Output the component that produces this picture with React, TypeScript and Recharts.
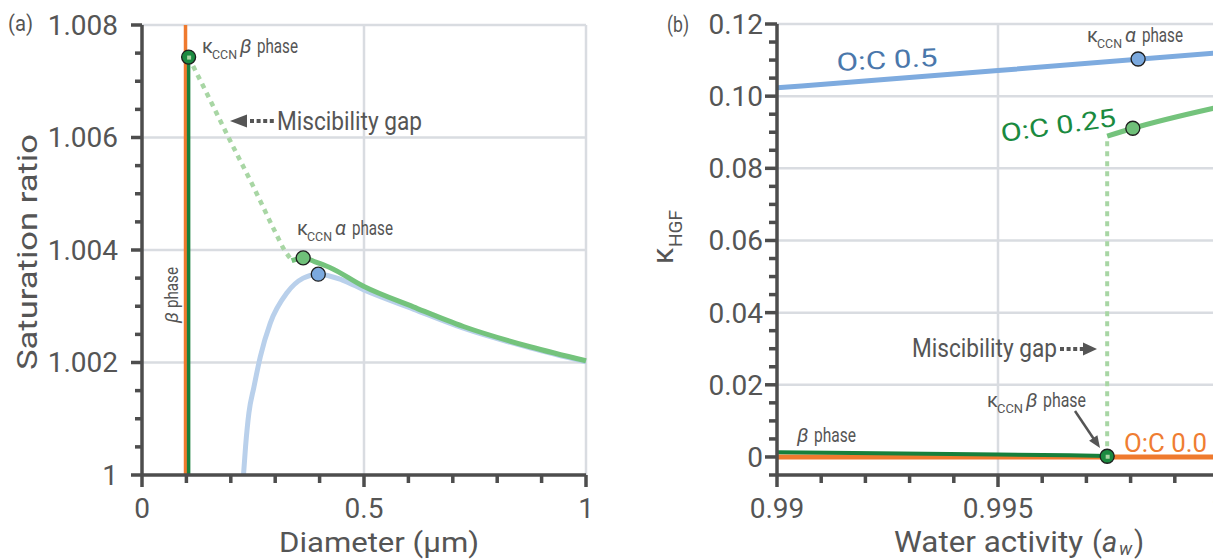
import React from 'react';
import { ComposedChart, Line, Scatter, XAxis, YAxis, CartesianGrid } from 'recharts';

const FONT = 'Roboto, "DejaVu Sans", sans-serif';
const AXIS = '#4d4d4d';
const TEXT = '#555555';
const GRID = '#d9dce1';
const ORANGE = '#ef7a2e';
const DARK_GREEN = '#17803c';
const GREEN = '#74c37c';
const DOTTED_GREEN = '#a8d6a4';
const LIGHT_BLUE = '#b9d0eb';
const BLUE = '#7eabdf';

// ---------- Panel (a): saturation ratio vs diameter ----------
const aXMinor = [0.1, 0.2, 0.3, 0.4, 0.6, 0.7, 0.8, 0.9];
const aXMajor = [0, 0.5, 1];
const aXLabels = ['0', '0.5', '1'];
const aYMinor = [1.0005, 1.001, 1.0015, 1.0025, 1.003, 1.0035, 1.0045, 1.005, 1.0055, 1.0065, 1.007, 1.0075];
const aYMajor = [1, 1.002, 1.004, 1.006, 1.008];
const aYLabels = ['1', '1.002', '1.004', '1.006', '1.008'];
const aGridX = [0.5, 1];
const aGridY = [1.002, 1.004, 1.006, 1.008];

const aOrangeBeta = [
  { x: 0.098, y: 1.0 },
  { x: 0.098, y: 1.008 },
];
const aDarkGreenBeta = [
  { x: 0.105, y: 1.0 },
  { x: 0.105, y: 1.00743 },
];
const aGap = [
  { x: 0.105, y: 1.00743 },
  { x: 0.15, y: 1.00672 },
  { x: 0.2, y: 1.00592 },
  { x: 0.25, y: 1.00514 },
  { x: 0.3, y: 1.00432 },
  { x: 0.32, y: 1.00401 },
  { x: 0.337, y: 1.00382 },
];
const aGreenAlpha = [
  { x: 0.337, y: 1.00381 },
  { x: 0.363, y: 1.00386 },
  { x: 0.39, y: 1.00379 },
  { x: 0.423, y: 1.00369 },
  { x: 0.5, y: 1.00335 },
  { x: 0.611, y: 1.00299 },
  { x: 0.724, y: 1.00264 },
  { x: 0.874, y: 1.00228 },
  { x: 1.0, y: 1.00203 },
];
const aBlue = [
  { x: 0.2286, y: 1.0 },
  { x: 0.2332, y: 1.0005 },
  { x: 0.2407, y: 1.0011 },
  { x: 0.252, y: 1.00156 },
  { x: 0.2664, y: 1.0021 },
  { x: 0.2889, y: 1.0027 },
  { x: 0.3266, y: 1.00324 },
  { x: 0.363, y: 1.0035 },
  { x: 0.397, y: 1.00357 },
  { x: 0.45, y: 1.00347 },
  { x: 0.5, y: 1.00329 },
  { x: 0.611, y: 1.00295 },
  { x: 0.724, y: 1.00261 },
  { x: 0.874, y: 1.00226 },
  { x: 1.0, y: 1.00201 },
];
const aKBeta = [{ x: 0.105, y: 1.00743 }];
const aKAlphaGreen = [{ x: 0.363, y: 1.00386 }];
const aKAlphaBlue = [{ x: 0.397, y: 1.00357 }];

// ---------- Panel (b): kappa_HGF vs water activity ----------
const bXMinor = [0.991, 0.992, 0.993, 0.994, 0.996, 0.997, 0.998, 0.999];
const bXMajor = [0.99, 0.995, 1.0];
const bXLabels = ['0.99', '0.995', '1'];
const bYMinor = [-0.005, 0.005, 0.01, 0.015, 0.025, 0.03, 0.035, 0.045, 0.05, 0.055, 0.065, 0.07, 0.075, 0.085, 0.09, 0.095, 0.105, 0.11, 0.115];
const bYMajor = [0, 0.02, 0.04, 0.06, 0.08, 0.1, 0.12];
const bYLabels = ['0', '0.02', '0.04', '0.06', '0.08', '0.10', '0.12'];
const bGridX = [0.995, 1.0];
const bGridY = [0, 0.02, 0.04, 0.06, 0.08, 0.1, 0.12];

const bBlue = [
  { x: 0.99, y: 0.1023 },
  { x: 0.995, y: 0.1071 },
  { x: 1.0, y: 0.112 },
];
const bGreen = [
  { x: 0.99747, y: 0.0889 },
  { x: 0.99805, y: 0.0911 },
  { x: 1.0, y: 0.097 },
];
const bOrange = [
  { x: 0.99, y: 0 },
  { x: 1.0, y: 0 },
];
const bDarkGreen = [
  { x: 0.99, y: 0.0013 },
  { x: 0.995, y: 0.0007 },
  { x: 0.99747, y: 0.0003 },
];
const bGap = [
  { x: 0.99747, y: 0.0002 },
  { x: 0.99747, y: 0.0889 },
];
const bKBlue = [{ x: 0.99817, y: 0.1103 }];
const bKGreen = [{ x: 0.99805, y: 0.0911 }];
const bKBeta = [{ x: 0.99747, y: 0.0002 }];

// ---------- chart geometry ----------
const AXW = 60;
const A = { left: 0, width: 600, height: 559, margin: { top: 25, right: 14, bottom: 24, left: 82 }, xDom: [0, 1], yDom: [1, 1.008] };
const B = { left: 620, width: 620, height: 559, margin: { top: 24, right: 21, bottom: 24, left: 97 }, xDom: [0.99, 1.0], yDom: [-0.005, 0.12] };

function plotRect(p: typeof A) {
  return {
    x0: p.left + p.margin.left + AXW,
    x1: p.left + p.width - p.margin.right,
    y0: p.margin.top,
    y1: p.height - p.margin.bottom - AXW,
  };
}
const lin = (d: number[], r: number[]) => (v: number) => r[0] + ((v - d[0]) / (d[1] - d[0])) * (r[1] - r[0]);

// minor and major tick marks, placed with the same linear mapping as the chart axes
function AxisTicks({ p, xMinor, xMajor, yMinor, yMajor, lens }: any) {
  const r = plotRect(p);
  const sx = lin(p.xDom, [r.x0, r.x1]);
  const sy = lin(p.yDom, [r.y1, r.y0]);
  const w = 3.5;
  return (
    <g fill={AXIS}>
      {xMinor.map((t: number) => <rect key={'xm' + t} x={sx(t) - w / 2} y={r.y1} width={w} height={lens.xm} />)}
      {xMajor.map((t: number) => <rect key={'xM' + t} x={sx(t) - w / 2} y={r.y1} width={w} height={lens.xM} />)}
      {yMinor.map((t: number) => <rect key={'ym' + t} x={r.x0 - lens.ym} y={sy(t) - w / 2} width={lens.ym} height={w} />)}
      {yMajor.map((t: number) => <rect key={'yM' + t} x={r.x0 - lens.yM} y={sy(t) - w / 2} width={lens.yM} height={w} />)}
    </g>
  );
}

const labelFor = (majors: number[], labels: string[]) => (v: number) => {
  const i = majors.findIndex((m) => Math.abs(m - v) < 1e-9);
  return i >= 0 ? labels[i] : '';
};

const dotShape = (fill: string, center?: string) => (props: any) => {
  const { cx, cy } = props;
  return (
    <g>
      <circle cx={cx} cy={cy} r={7} fill={fill} stroke="#1e1e1e" strokeWidth={1.3} />
      {center && <rect x={cx - 1.5} y={cy - 1.5} width={4} height={4} fill={center} />}
    </g>
  );
};

const axisLineStyle = { stroke: AXIS, strokeWidth: 3.5 };
const tickTextStyle = { fontSize: 28, fill: TEXT, fontFamily: FONT };

function KappaLabel({ x, y, greek, phaseLen, ccnW = 25 }: { x: number; y: number; greek: string; phaseLen: number; ccnW?: number }) {
  return (
    <g fill={TEXT} fontFamily={FONT}>
      <text x={x} y={y} fontSize={20}>κ</text>
      <text x={x + 10} y={y + 6} fontSize={12.5} textLength={ccnW} lengthAdjust="spacingAndGlyphs">CCN</text>
      <text x={x + ccnW + 13} y={y} fontSize={20} fontStyle="italic">{greek}</text>
      <text x={x + ccnW + 30} y={y} fontSize={20} textLength={phaseLen} lengthAdjust="spacingAndGlyphs">phase</text>
    </g>
  );
}

const common = { dataKey: 'y', isAnimationActive: false } as const;

export default function App() {
  return (
    <div style={{ position: 'fixed', left: 0, top: 0, width: 1213, height: 559, overflow: 'hidden', background: '#fff' }}>
      <div style={{ position: 'absolute', left: A.left, top: 0 }}>
        <ComposedChart width={A.width} height={A.height} margin={A.margin}>
          <CartesianGrid vertical horizontal verticalValues={aGridX} horizontalValues={aGridY} stroke={GRID} strokeWidth={2.5} />
          <XAxis type="number" dataKey="x" domain={A.xDom} ticks={aXMajor} interval={0} height={AXW} tickSize={12} tickMargin={11} tickLine={false} axisLine={axisLineStyle} tick={tickTextStyle} tickFormatter={labelFor(aXMajor, aXLabels)} />
          <YAxis type="number" dataKey="y" domain={A.yDom} ticks={aYMajor} interval={0} width={AXW} tickSize={10} tickMargin={14} tickLine={false} axisLine={axisLineStyle} tick={tickTextStyle} tickFormatter={labelFor(aYMajor, aYLabels)} />
          <Line data={aBlue} {...common} type="monotone" stroke={LIGHT_BLUE} strokeWidth={5} dot={false} activeDot={false} />
          <Line data={aGreenAlpha} {...common} type="monotone" stroke={GREEN} strokeWidth={5} dot={false} activeDot={false} />
          <Line data={aOrangeBeta} {...common} type="linear" stroke={ORANGE} strokeWidth={3.5} dot={false} activeDot={false} />
          <Line data={aDarkGreenBeta} {...common} type="linear" stroke={DARK_GREEN} strokeWidth={3.5} dot={false} activeDot={false} />
          <Line data={aGap} {...common} type="monotone" stroke={DOTTED_GREEN} strokeWidth={4.5} strokeDasharray="5 5" dot={false} activeDot={false} />
          <Scatter data={aKAlphaBlue} {...common} shape={dotShape('#7ba9de')} />
          <Scatter data={aKAlphaGreen} {...common} shape={dotShape('#6fc079')} />
          <Scatter data={aKBeta} {...common} shape={dotShape('#1b8a40', DOTTED_GREEN)} />
        </ComposedChart>
      </div>
      <div style={{ position: 'absolute', left: B.left, top: 0 }}>
        <ComposedChart width={B.width} height={B.height} margin={B.margin}>
          <CartesianGrid vertical horizontal verticalValues={bGridX} horizontalValues={bGridY} stroke={GRID} strokeWidth={2.5} />
          <XAxis type="number" dataKey="x" domain={B.xDom} ticks={bXMajor} interval={0} height={AXW} tickSize={12} tickMargin={11} tickLine={false} axisLine={axisLineStyle} tick={tickTextStyle} tickFormatter={labelFor(bXMajor, bXLabels)} />
          <YAxis type="number" dataKey="y" domain={B.yDom} ticks={bYMajor} interval={0} width={AXW} tickSize={12} tickMargin={2} tickLine={false} axisLine={axisLineStyle} tick={tickTextStyle} tickFormatter={labelFor(bYMajor, bYLabels)} />
          <Line data={bBlue} {...common} type="monotone" stroke={BLUE} strokeWidth={5} dot={false} activeDot={false} />
          <Line data={bGreen} {...common} type="monotone" stroke={GREEN} strokeWidth={5} dot={false} activeDot={false} />
          <Line data={bOrange} {...common} type="linear" stroke={ORANGE} strokeWidth={5} dot={false} activeDot={false} />
          <Line data={bDarkGreen} {...common} type="monotone" stroke={DARK_GREEN} strokeWidth={4} dot={false} activeDot={false} />
          <Line data={bGap} {...common} type="linear" stroke={DOTTED_GREEN} strokeWidth={4} strokeDasharray="5 5" dot={false} activeDot={false} />
          <Scatter data={bKBlue} {...common} shape={dotShape('#7ba9de')} />
          <Scatter data={bKGreen} {...common} shape={dotShape('#6fc079')} />
          <Scatter data={bKBeta} {...common} shape={dotShape('#1b8a40', DOTTED_GREEN)} />
        </ComposedChart>
      </div>
      <svg width={1213} height={559} style={{ position: 'absolute', left: 0, top: 0, pointerEvents: 'none' }}>
        <AxisTicks p={A} xMinor={aXMinor} xMajor={aXMajor} yMinor={aYMinor} yMajor={aYMajor} lens={{ xm: 8, xM: 12, ym: 7, yM: 11 }} />
        <AxisTicks p={B} xMinor={bXMinor} xMajor={bXMajor} yMinor={bYMinor} yMajor={bYMajor} lens={{ xm: 8, xM: 12, ym: 8, yM: 12 }} />

        {/* Panel (a) text */}
        <text x={8} y={31} fontSize={22} fill={TEXT} fontFamily={FONT} textLength={25} lengthAdjust="spacingAndGlyphs">(a)</text>
        <text x={37} y={252} fontSize={28} fill={TEXT} fontFamily={FONT} textAnchor="middle" transform="rotate(-90 37 252)" textLength={236} lengthAdjust="spacingAndGlyphs">Saturation ratio</text>
        <text x={279} y={552} fontSize={28} fill={TEXT} fontFamily={FONT} textLength={200} lengthAdjust="spacingAndGlyphs">Diameter (μm)</text>
        <KappaLabel x={202} y={53} greek="β" phaseLen={41} />
        <KappaLabel x={297} y={235} greek="α" phaseLen={41} />
        <polygon points="230,121 247,114.5 247,127.5" fill={TEXT} />
        <line x1={250} x2={275} y1={121} y2={121} stroke={TEXT} strokeWidth={4} strokeDasharray="4 2.6" />
        <text x={277} y={130} fontSize={26} fill={TEXT} fontFamily={FONT} textLength={145} lengthAdjust="spacingAndGlyphs">Miscibility gap</text>
        <g transform="rotate(-90 178 323)" fill={TEXT} fontFamily={FONT}>
          <text x={178} y={323} fontSize={19} fontStyle="italic">β</text>
          <text x={193} y={323} fontSize={19} textLength={41} lengthAdjust="spacingAndGlyphs">phase</text>
        </g>

        {/* Panel (b) text */}
        <text x={667} y={32} fontSize={22} fill={TEXT} fontFamily={FONT} textLength={22} lengthAdjust="spacingAndGlyphs">(b)</text>
        <g transform="rotate(-90 673 264)" fill={TEXT} fontFamily={FONT}>
          <text x={673} y={264} fontSize={30}>κ</text>
          <text x={690} y={273} fontSize={18} textLength={37} lengthAdjust="spacingAndGlyphs">HGF</text>
        </g>
        <g fill={TEXT} fontFamily={FONT}>
          <text x={894} y={552} fontSize={29} textLength={189} lengthAdjust="spacingAndGlyphs">Water activity</text>
          <text x={1092} y={552} fontSize={29}>(</text>
          <text x={1102} y={552} fontSize={29} fontStyle="italic">a</text>
          <text x={1119} y={555} fontSize={18} fontStyle="italic">w</text>
          <text x={1134} y={552} fontSize={29}>)</text>
        </g>
        <text x={837} y={71} fontSize={25} fill="#4a77ab" fontFamily={FONT} transform="rotate(-3 837 71)" textLength={101} lengthAdjust="spacingAndGlyphs">O:C 0.5</text>
        <text x={1002} y={142} fontSize={25} fill="#1a8a40" fontFamily={FONT} transform="rotate(-8 1002 142)" textLength={116} lengthAdjust="spacingAndGlyphs">O:C 0.25</text>
        <text x={1124} y={452} fontSize={25} fill="#ef7d32" fontFamily={FONT} textLength={83} lengthAdjust="spacingAndGlyphs">O:C 0.0</text>
        <KappaLabel x={1087} y={42} greek="α" phaseLen={41} />
        <KappaLabel x={987} y={407} greek="β" phaseLen={43} ccnW={26} />
        <text x={912} y={357} fontSize={26} fill={TEXT} fontFamily={FONT} textLength={145} lengthAdjust="spacingAndGlyphs">Miscibility gap</text>
        <line x1={1060} x2={1083} y1={349} y2={349} stroke={TEXT} strokeWidth={4} strokeDasharray="4 2.6" />
        <polygon points="1097,349 1083,342.5 1083,355.5" fill={TEXT} />
        <line x1={1075} y1={411} x2={1093.5} y2={438.5} stroke={TEXT} strokeWidth={2.5} />
        <polygon points="1100,448 1089.1,440.8 1097.4,435.2" fill={TEXT} />
        <g fill={TEXT} fontFamily={FONT}>
          <text x={797} y={442} fontSize={20} fontStyle="italic">β</text>
          <text x={814} y={442} fontSize={20} textLength={42} lengthAdjust="spacingAndGlyphs">phase</text>
        </g>
      </svg>
    </div>
  );
}
